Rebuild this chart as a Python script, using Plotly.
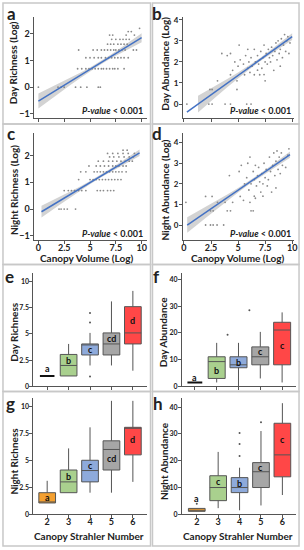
import plotly.graph_objects as go

W, H = 304, 550
FONT = "Lato"

# ---------------- scatter data (log canopy volume vs log response) -------------
day_rich_vol = [0.0, 1.9, 2.2, 2.5, 3.6, 4.1, 4.7, 5.8, 6.0,
                3.8, 4.2, 4.6, 4.9, 5.2, 5.5, 5.8, 6.1, 6.3, 6.6, 6.9, 7.2, 7.4, 7.7, 8.3,
                4.6, 5.0, 5.4, 5.8, 6.1, 6.5, 6.8, 7.1, 7.4, 7.7, 8.0, 8.3, 8.7,
                3.9, 5.3, 5.7, 6.1, 6.4, 6.7, 7.0, 7.3, 7.5, 7.8, 8.1, 8.4, 9.2, 9.5,
                6.7, 7.0, 7.3, 7.7, 8.0, 8.3, 8.6,
                7.1, 7.5, 7.9, 8.2, 8.5, 8.8,
                6.9, 7.2, 8.5, 9.3,
                8.7, 9.0,
                9.8]
day_rich_log = [0]*9 + [0.69]*15 + [1.10]*13 + [1.39]*14 + [1.61]*7 + [1.79]*6 + [1.95]*4 + [2.08]*2 + [2.20]

night_rich_vol = [2.0, 2.2, 2.5, 2.8, 3.6,
                  2.5, 2.9, 3.2, 3.5, 3.9, 4.2, 4.6, 5.7, 6.0, 6.3, 6.7, 7.0, 7.3,
                  3.9, 5.0, 5.3, 5.6, 5.9, 6.2, 6.5, 6.8, 7.1, 7.4, 7.7, 8.0,
                  4.1, 4.6, 5.4, 5.7, 6.0, 6.3, 6.6, 6.9, 7.2, 7.5, 7.8, 8.1, 8.5,
                  4.9, 5.6, 6.0, 6.4, 6.8, 7.2, 7.5, 7.8, 8.2, 8.5,
                  5.8, 6.3, 6.8, 7.2, 7.6, 8.0, 8.4, 8.8, 9.1,
                  6.9, 7.3, 7.8, 8.3, 8.8, 9.2,
                  6.7, 7.2, 7.7, 8.2, 8.7, 9.3,
                  8.2, 8.6]
night_rich_log = [0]*5 + [0.69]*13 + [1.10]*12 + [1.39]*13 + [1.61]*10 + [1.79]*9 + [1.95]*6 + [2.08]*6 + [2.20]*2

day_ab_vol = [0.27, 2.3, 2.6, 3.8, 4.3, 5.8, 6.2, 2.4, 2.6, 4.9, 3.1, 4.9, 7.5, 4.3, 5.6, 6.5, 7.0, 6.8,
              4.0, 4.3, 4.7, 5.0, 5.2, 5.5, 5.7, 5.9, 6.0, 6.2, 6.3, 6.5, 6.6, 6.8, 6.9, 7.0, 7.1, 7.2,
              7.3, 7.4, 7.5, 7.6, 7.7, 7.8, 7.9, 8.0, 8.1, 8.2, 8.3, 8.4, 8.5, 8.6, 8.7, 8.8, 8.9, 9.0,
              9.1, 9.2, 9.3, 9.4, 9.5, 9.6, 9.7, 9.8, 5.1, 6.1, 7.4, 8.9, 5.9, 4.5, 3.5]
day_ab_log = [0, 0, 0, 0, 0, 0, 0, 0.69, 0.69, 0.69, 1.1, 1.1, 1.1, 1.39, 1.39, 1.39, 1.39, 1.61,
              2.3, 2.4, 2.0, 1.8, 2.1, 1.9, 2.3, 1.7, 2.0, 2.2, 1.8, 2.6, 2.0, 2.3, 1.9, 2.1, 2.5, 1.7,
              2.2, 2.8, 2.0, 2.4, 1.9, 2.6, 2.2, 2.0, 2.7, 2.3, 1.6, 2.5, 2.9, 2.1, 3.0, 2.4, 2.6, 3.1,
              2.2, 2.8, 3.3, 2.5, 3.0, 3.2, 2.4, 2.9, 2.8, 1.5, 1.4, 1.8, 2.6, 1.6, 2.4]

night_ab_vol = [0.18, 2.0, 2.45, 2.7, 3.06, 3.67, 2.45, 2.7, 4.0, 4.3, 6.2, 6.4,
                2.0, 2.6, 3.1, 3.8, 4.5, 5.2, 6.1, 6.5,
                4.2, 5.1, 5.3, 5.6, 5.8, 6.0, 6.1, 6.2, 6.4, 6.5, 6.6, 6.7, 6.8, 6.9, 7.0, 7.1,
                7.2, 7.3, 7.4, 7.5, 7.6, 7.7, 7.8, 7.9, 8.0, 8.1, 8.2, 8.3, 8.4, 8.5, 8.6, 8.7,
                8.8, 8.9, 9.0, 9.1, 9.2, 9.4, 9.6, 9.7, 5.5, 6.6, 7.3, 8.5, 5.9]
night_ab_log = [1.1, 0, 0, 0, 0, 0, 0.69, 0.69, 0.69, 0.69, 0.69, 0.69,
                1.39, 1.39, 1.1, 1.1, 1.1, 1.39, 1.1, 1.4,
                2.4, 2.6, 2.9, 2.0, 2.3, 1.7, 3.3, 2.0, 2.6, 2.2, 2.9, 1.9, 2.4, 2.8, 2.1, 1.6,
                2.5, 2.0, 3.0, 2.3, 2.7, 1.9, 2.2, 3.3, 2.6, 1.6, 2.9, 3.5, 2.4, 3.1, 3.6, 2.7,
                3.3, 2.5, 3.5, 2.9, 3.2, 2.8, 3.4, 3.7, 1.2, 1.3, 1.4, 1.8, 3.0]

# fitted regression lines: [intercept, slope, x_start, x_end]
fit_day_rich = [-0.52, 0.237, 0.0, 10.0]
fit_day_ab = [-0.48, 0.368, 0.27, 10.0]
fit_night_rich = [-0.17, 0.232, 0.3, 9.8]
fit_night_ab = [-0.11, 0.36, 0.3, 9.8]
# confidence band half-widths at band_x
band_x_day_rich = [0, 1, 2, 3, 4, 5, 6, 7, 8, 9, 10]
band_hw_day_rich = [0.28, 0.23, 0.18, 0.14, 0.10, 0.07, 0.06, 0.07, 0.10, 0.13, 0.17]
band_x_day_ab = [1.3, 2, 3, 4, 5, 6, 7, 8, 9, 10]
band_hw_day_ab = [0.40, 0.34, 0.27, 0.20, 0.14, 0.10, 0.08, 0.10, 0.13, 0.16]
band_x_night_rich = [0.3, 1, 2, 3, 4, 5, 6, 7, 8, 9, 9.8]
band_hw_night_rich = [0.22, 0.19, 0.15, 0.11, 0.08, 0.06, 0.05, 0.06, 0.08, 0.10, 0.12]
band_x_night_ab = [0.3, 1, 2, 3, 4, 5, 6, 7, 8, 9, 9.8]
band_hw_night_ab = [0.38, 0.33, 0.27, 0.21, 0.15, 0.11, 0.08, 0.08, 0.10, 0.13, 0.15]

# ---------------- box data by canopy Strahler number ----------------
strahler = [2, 3, 4, 5, 6]
box_colors = ["#f4a030", "#a9d08e", "#8eaadb", "#a6a6a6", "#ff4747"]

dr_q1 = [1, 1, 3, 3, 4.05]
dr_med = [1, 2, 4, 4.05, 5.1]
dr_q3 = [1, 3.05, 4.05, 5.1, 7.6]
dr_lo = [1, 1, 2, 2, 1.5]
dr_hi = [1, 4.05, 5.1, 8.1, 9.1]
dr_out_x = [4, 4, 4]
dr_out_y = [6.1, 7.0, 0.95]
dr_letters = ["a", "b", "c", "cd", "d"]
dr_letter_y = [1.75, 2.5, 3.5, 4.55, 6.25]

da_q1 = [1.5, 3, 7, 8.1, 8.1]
da_med = [1.5, 9.3, 8.1, 11.1, 21.1]
da_q3 = [1.5, 11.1, 11.1, 14.8, 24]
da_lo = [1.5, 1.5, 0, 3, 1.5]
da_hi = [1.5, 16.3, 16.3, 20.4, 27.7]
da_out_x = [3.5, 4.5]
da_out_y = [19.3, 28.5]
da_letters = ["a", "b", "b", "c", "c"]
da_letter_y = [3.2, 6, 8.9, 13, 15.5]

nr_q1 = [1.05, 2, 3, 4.1, 5.5]
nr_med = [1.05, 3, 4.05, 6, 8.05]
nr_q3 = [2, 4.1, 5, 6.8, 8.05]
nr_lo = [1.05, 2, 2, 2, 3]
nr_hi = [3.1, 6.1, 8.05, 10.5, 10.5]
nr_letters = ["a", "b", "c", "cd", "d"]
nr_letter_y = [1.55, 3.5, 4.5, 5.2, 6.9]

na_q1 = [1.1, 5.1, 8.1, 10, 14]
na_med = [1.5, 10, 10, 15.9, 22.2]
na_q3 = [2.2, 14.4, 13.7, 19.3, 34]
na_lo = [1.1, 2.3, 1.5, 3.3, 7.2]
na_hi = [2.2, 23.3, 17.4, 31.1, 41.5]
na_out_x = [2, 4, 4, 4, 5]
na_out_y = [3.9, 21.8, 26.3, 30.4, 34.4]
na_letters = ["a", "c", "b", "c", "c"]
na_letter_y = [6, 12.2, 11.5, 17.4, 28]

scatter_xticks = [0, 2.5, 5, 7.5, 10]


def px(x):
    return x / W


def py(y):
    return 1 - y / H


fig = go.Figure()

AX = dict(showgrid=False, zeroline=False, showline=True, linecolor="#555", linewidth=1,
          ticks="outside", ticklen=3, tickcolor="#555", tickwidth=1, fixedrange=True)


def add_axes(n, xdom, ydom, xr, yr, xtickvals, ytickvals, xlabels, ysize, xticktext=None, yticktext=None):
    xa = dict(AX, domain=[px(xdom[0]), px(xdom[1])], range=xr, anchor="y%d" % n,
              tickvals=xtickvals, showticklabels=xlabels, ticklabelstandoff=-4,
              tickfont=dict(family=FONT, size=9, color="#222", weight="bold"))
    if xticktext is not None:
        xa["ticktext"] = xticktext
    ya = dict(AX, domain=[py(ydom[1]), py(ydom[0])], range=yr, anchor="x%d" % n,
              tickvals=ytickvals, ticklabelstandoff=-1,
              tickfont=dict(family=FONT, size=ysize, color="#222", weight="bold"))
    if yticktext is not None:
        ya["ticktext"] = yticktext
    key = "" if n == 1 else str(n)
    fig.update_layout(**{"xaxis" + key: xa, "yaxis" + key: ya})


vol_ticktext = ["0", "2.5", "5", "7.5", "10"]
rich_ticktext = ["0", "2.5", "5", "7.5", "10"]
# scatter panels
add_axes(1, (33, 147), (15, 117), [-0.38, 10.48], [-1.15, 2.63], scatter_xticks, [-1, 0, 1, 2], False, 9)
add_axes(2, (184, 297), (15, 117), [-0.09, 10.18], [-0.66, 4.14], scatter_xticks, [0, 1, 2, 3, 4], False, 8)
add_axes(3, (33, 147), (132, 240), [-0.38, 10.48], [-1.15, 2.85], scatter_xticks, [-1, 0, 1, 2], True, 9,
         vol_ticktext)
add_axes(4, (184, 297), (132, 240), [-0.09, 10.18], [-0.72, 4.48], scatter_xticks, [0, 1, 2, 3, 4], True, 8,
         vol_ticktext)
# box panels
add_axes(5, (32, 147), (273, 388), [1.36, 6.64], [0, 10.85], strahler, [0, 2.5, 5, 7.5, 10], False, 7,
         None, rich_ticktext)
add_axes(6, (183, 299), (273, 388), [1.41, 6.64], [0, 42.6], strahler, [0, 10, 20, 30, 40], False, 7)
add_axes(7, (32, 147), (400, 517), [1.36, 6.64], [0, 10.73], strahler, [0, 2.5, 5, 7.5, 10], True, 7,
         None, rich_ticktext)
add_axes(8, (183, 299), (400, 517), [1.31, 6.64], [0, 43.3], strahler, [0, 10, 20, 30, 40], True, 7)

scatter_sets = [
    (1, day_rich_vol, day_rich_log, fit_day_rich, band_x_day_rich, band_hw_day_rich),
    (2, day_ab_vol, day_ab_log, fit_day_ab, band_x_day_ab, band_hw_day_ab),
    (3, night_rich_vol, night_rich_log, fit_night_rich, band_x_night_rich, band_hw_night_rich),
    (4, night_ab_vol, night_ab_log, fit_night_ab, band_x_night_ab, band_hw_night_ab),
]
for n, xs, ys, fit, bx, bh in scatter_sets:
    xa, ya = "x%d" % n, "y%d" % n
    b0, b1, xs0, xs1 = fit
    lo = [b0 + b1 * x - h for x, h in zip(bx, bh)]
    hi = [b0 + b1 * x + h for x, h in zip(bx, bh)]
    fig.add_trace(go.Scatter(x=bx + bx[::-1], y=hi + lo[::-1], fill="toself",
                             fillcolor="rgba(175,175,175,0.55)", line=dict(width=0),
                             mode="lines", xaxis=xa, yaxis=ya, hoverinfo="skip", showlegend=False))
    fig.add_trace(go.Scatter(x=xs, y=ys, mode="markers", marker=dict(size=1.8, color="#8a8a8a"),
                             xaxis=xa, yaxis=ya, showlegend=False))
    fig.add_trace(go.Scatter(x=[xs0, xs1], y=[b0 + b1 * xs0, b0 + b1 * xs1], mode="lines",
                             line=dict(color="#4472c4", width=1.5), xaxis=xa, yaxis=ya, showlegend=False))

box_sets = [
    (5, dr_q1, dr_med, dr_q3, dr_lo, dr_hi, dr_out_x, dr_out_y, dr_letters, dr_letter_y, False),
    (6, da_q1, da_med, da_q3, da_lo, da_hi, da_out_x, da_out_y, da_letters, da_letter_y, False),
    (7, nr_q1, nr_med, nr_q3, nr_lo, nr_hi, [], [], nr_letters, nr_letter_y, True),
    (8, na_q1, na_med, na_q3, na_lo, na_hi, na_out_x, na_out_y, na_letters, na_letter_y, True),
]
annotations = []
for n, q1, med, q3, lo, hi, ox, oy, letters, ly, first_filled in box_sets:
    xa, ya = "x%d" % n, "y%d" % n
    for i, s in enumerate(strahler):
        if i == 0 and not first_filled:
            fig.add_trace(go.Box(x=[s], q1=[q1[i]], median=[med[i]], q3=[q3[i]],
                                 lowerfence=[lo[i]], upperfence=[hi[i]], width=0.68,
                                 fillcolor="rgba(0,0,0,0)", line=dict(color="#111", width=2),
                                 whiskerwidth=0, boxpoints=False, xaxis=xa, yaxis=ya, showlegend=False))
        else:
            fig.add_trace(go.Box(x=[s], q1=[q1[i]], median=[med[i]], q3=[q3[i]],
                                 lowerfence=[lo[i]], upperfence=[hi[i]], width=0.78,
                                 fillcolor=box_colors[i], line=dict(color="#555", width=1),
                                 whiskerwidth=0, boxpoints=False, xaxis=xa, yaxis=ya, showlegend=False))
        annotations.append(dict(x=s, y=ly[i], xref=xa, yref=ya, text=letters[i], showarrow=False,
                                font=dict(family=FONT, size=9, color="#111", weight="bold")))
    if ox:
        fig.add_trace(go.Scatter(x=ox, y=oy, mode="markers", marker=dict(size=2, color="#555"),
                                 xaxis=xa, yaxis=ya, showlegend=False))


def ann(x, y, text, size, angle=0, xanchor="center", yanchor="middle"):
    annotations.append(dict(x=px(x), y=py(y), xref="paper", yref="paper", text=text,
                            showarrow=False, textangle=angle, xanchor=xanchor, yanchor=yanchor,
                            font=dict(family=FONT, size=size, color="#222", weight="bold")))


# panel letters
for letter, x, y in [("a", 10, 12), ("b", 158, 12), ("c", 9, 133), ("d", 158, 133),
                     ("e", 8, 277), ("f", 157, 277), ("g", 9, 405), ("h", 159, 405)]:
    ann(x, y, letter, 17)

# y-axis titles
ann(12, 61, "Day Richness (Log)", 10, -90)
ann(166, 62, "Day Abundance (Log)", 10, -90)
ann(12, 190, "Night Richness (Log)", 10, -90)
ann(166, 190, "Night Abundance (Log)", 10, -90)
ann(12, 333, "Day Richness", 10, -90)
ann(164, 333, "Day Abundance", 10, -90)
ann(12, 463, "Night Richness", 10, -90)
ann(164, 463, "Night Abundance", 10, -90)
# x-axis titles
ann(86, 258, "Canopy Volume (Log)", 10)
ann(240, 258, "Canopy Volume (Log)", 10)
ann(88, 539, "Canopy Strahler Number", 10)
ann(240, 539, "Canopy Strahler Number", 10)
# p-values
for x, y in [(145, 110), (296, 110), (145, 234), (296, 234)]:
    ann(x, y, "<i>P-value</i> &lt; 0.001", 9, 0, "right")

# panel frames
shapes = []
for x0, y0, x1, y1 in [(1, 1, 151, 123), (153, 1, 302, 123), (1, 123, 151, 265), (153, 123, 302, 265),
                       (1, 265, 151, 393), (153, 265, 302, 393), (1, 393, 151, 549), (153, 393, 302, 549)]:
    shapes.append(dict(type="rect", xref="paper", yref="paper", x0=px(x0), x1=px(x1),
                       y0=py(y1), y1=py(y0), line=dict(color="#c8c8c8", width=1.5)))

fig.update_layout(width=W, height=H, margin=dict(l=0, r=0, t=0, b=0),
                  paper_bgcolor="white", plot_bgcolor="white", boxmode="overlay",
                  showlegend=False, annotations=annotations, shapes=shapes,
                  font=dict(family=FONT, color="#222"))

fig.write_html("out.html", config={"displayModeBar": False},
               post_script="document.body.style.margin='0';document.body.style.padding='0';"
                           "document.body.style.overflow='hidden';")
